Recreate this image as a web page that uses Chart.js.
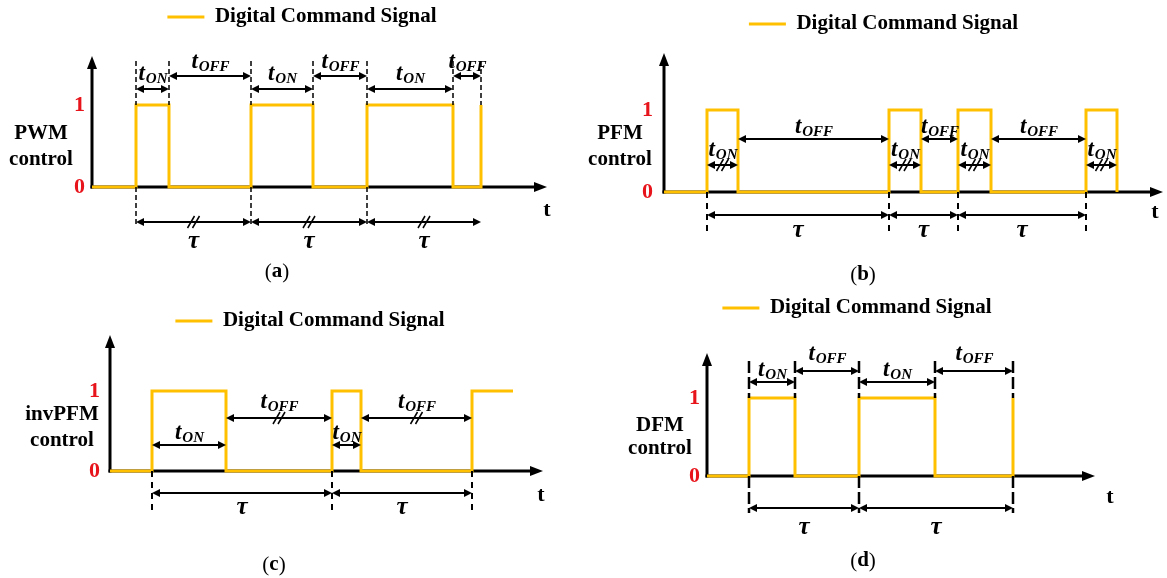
<!DOCTYPE html>
<html>
<head>
<meta charset="utf-8">
<script src="https://cdn.jsdelivr.net/npm/chart.js@4.4.0/dist/chart.umd.min.js"></script>
<style>
  body { margin: 0; background: #fff; }
  #fig { position: relative; width: 1167px; height: 578px; overflow: hidden; }
  #fig canvas { position: absolute; }
</style>
</head>
<body>
<div id="fig"></div>
<script>
// switching instants in ms (drawn at 10 px per ms)
const pwmRise = [4.4, 15.9, 27.5, 38.9];
const pwmFall = [7.7, 22.1, 36.1];
const pfmRise = [4.3, 22.5, 29.4, 42.2];
const pfmFall = [7.4, 25.7, 32.7, 45.3];
const invRise = [4.2, 22.2, 36.2];
const invFall = [11.6, 25.1];
const invHoldUntil = 40.3;
const dfmRise = [4.2, 15.2, 30.6];
const dfmFall = [8.8, 22.8];
const axisEnd = [45.5, 49.9, 43.3, 38.8];
const levelTicks = ['0', '1'];
const modeNames = ['PWM', 'PFM', 'invPFM', 'DFM'];
const captionLetters = ['a', 'b', 'c', 'd'];
const seriesName = 'Digital Command Signal';

const rises = [pwmRise, pfmRise, invRise, dfmRise];
const falls = [pwmFall, pfmFall, invFall, dfmFall];
const holds = [null, null, invHoldUntil, null];

const PX = 10;
const ORANGE = '#FFC000';
const RED = '#E8141B';
const serif = '"Liberation Serif", "DejaVu Serif", serif';

// where each panel sits on the page
const frames = [
  { left: 0, top: 0, width: 583, height: 289, pad: { left: 21, right: 0, top: 0.5 },
    axisX: 92, baseY: 187, highY: 105, yTop: 56, tickX: 85, tX: 547, tY: 210,
    nameX: 41, nameY: [134, 160], capX: 277, capY: 272 },
  { left: 583, top: 0, width: 584, height: 289, pad: { left: 17, right: 0, top: 7.5 },
    axisX: 664, baseY: 192, highY: 110, yTop: 53, tickX: 653, tX: 1155, tY: 212,
    nameX: 620, nameY: [134, 160], capX: 863, capY: 275 },
  { left: 0, top: 289, width: 583, height: 289, pad: { left: 37, right: 0, top: 15.5 },
    axisX: 110, baseY: 471, highY: 391, yTop: 335, tickX: 100, tX: 541, tY: 495,
    nameX: 62, nameY: [415, 441], capX: 274, capY: 565 },
  { left: 583, top: 289, width: 584, height: 289, pad: { left: 0, right: 36, top: 2.5 },
    axisX: 707, baseY: 476, highY: 398, yTop: 353, tickX: 700, tX: 1110, tY: 497,
    nameX: 660, nameY: [426, 449], capX: 863, capY: 561 }
];

// dimension arrows and guide marks, offsets in px from the 0/1 level
const marks = [
  { on:  { n: 3, ref: 'high', arrow: -16, text: -31 },
    off: { n: 3, ref: 'high', arrow: -29, text: -43 },
    tau: { n: 3, ref: 'base', arrow: 35, text: 55, hash: true },
    up: { len: 44, dash: [5, 3], w: 1.5 }, down: { n: 3, len: 38, dash: [5, 3], w: 1.5 } },
  { on:  { n: 4, ref: 'base', arrow: -27, text: -42, hash: true },
    off: { n: 3, ref: 'high', arrow: 29, text: 17 },
    tau: { n: 3, ref: 'base', arrow: 23, text: 39 },
    down: { n: 4, len: 41, dash: [6, 5], w: 2 } },
  { on:  { n: 2, ref: 'base', arrow: -26, text: -38 },
    off: { n: 2, ref: 'high', arrow: 27, text: 11, hash: true },
    tau: { n: 2, ref: 'base', arrow: 22, text: 37 },
    down: { n: 3, len: 39, dash: [6, 5], w: 2 } },
  { on:  { n: 2, ref: 'high', arrow: -16, text: -28 },
    off: { n: 2, ref: 'high', arrow: -27, text: -44 },
    tau: { n: 2, ref: 'base', arrow: 32, text: 52 },
    up: { len: 37, dash: [12, 4], w: 2.5 }, down: { n: 3, len: 37, dash: [12, 4], w: 2.5 } }
];

function stepPoints(rise, fall, holdUntil) {
  const pts = [{ x: 0, y: 0 }];
  const edges = rise.map(t => [t, 1]).concat(fall.map(t => [t, 0]));
  edges.sort((p, q) => p[0] - q[0]);
  edges.forEach(([t, v]) => pts.push({ x: t, y: v }));
  if (holdUntil != null) pts.push({ x: holdUntil, y: 1 });
  return pts;
}

function dimArrow(ctx, x1, x2, y) {
  const h = 8, w = 4;
  ctx.strokeStyle = '#000';
  ctx.fillStyle = '#000';
  ctx.lineWidth = 2;
  ctx.setLineDash([]);
  ctx.beginPath();
  ctx.moveTo(x1 + h - 1, y);
  ctx.lineTo(x2 - h + 1, y);
  ctx.stroke();
  ctx.beginPath();
  ctx.moveTo(x1, y); ctx.lineTo(x1 + h, y - w); ctx.lineTo(x1 + h, y + w);
  ctx.closePath(); ctx.fill();
  ctx.beginPath();
  ctx.moveTo(x2, y); ctx.lineTo(x2 - h, y - w); ctx.lineTo(x2 - h, y + w);
  ctx.closePath(); ctx.fill();
}

function hashMark(ctx, x, y) {
  ctx.lineWidth = 1.5;
  ctx.setLineDash([]);
  [-2.5, 2.5].forEach(dx => {
    ctx.beginPath();
    ctx.moveTo(x + dx - 3.5, y + 6);
    ctx.lineTo(x + dx + 3.5, y - 6);
    ctx.stroke();
  });
}

function vdash(ctx, x, y1, y2, g) {
  ctx.strokeStyle = '#000';
  ctx.lineWidth = g.w;
  ctx.setLineDash(g.dash);
  ctx.beginPath();
  ctx.moveTo(x, y1);
  ctx.lineTo(x, y2);
  ctx.stroke();
  ctx.setLineDash([]);
}

function timeLabel(ctx, x, y, sub) {
  ctx.fillStyle = '#000';
  ctx.textBaseline = 'middle';
  ctx.textAlign = 'left';
  ctx.font = 'italic bold 23px ' + serif;
  const w1 = ctx.measureText('t').width;
  ctx.font = 'italic bold 15px ' + serif;
  const w2 = ctx.measureText(sub).width;
  const x0 = x - (w1 + w2) / 2;
  ctx.font = 'italic bold 23px ' + serif;
  ctx.fillText('t', x0, y);
  ctx.font = 'italic bold 15px ' + serif;
  ctx.fillText(sub, x0 + w1 + 1, y + 5);
}

function tauLabel(ctx, x, y) {
  ctx.fillStyle = '#000';
  ctx.textBaseline = 'middle';
  ctx.textAlign = 'center';
  ctx.font = 'italic bold 25px ' + serif;
  ctx.fillText('\u03c4', x, y);
}

function caption(ctx, x, y, letter) {
  ctx.fillStyle = '#000';
  ctx.textBaseline = 'middle';
  ctx.textAlign = 'left';
  ctx.font = '21px ' + serif;
  const wp = ctx.measureText('(').width;
  ctx.font = 'bold 21px ' + serif;
  const wl = ctx.measureText(letter).width;
  let cx = x - (2 * wp + wl) / 2;
  ctx.font = '21px ' + serif;
  ctx.fillText('(', cx, y);
  ctx.font = 'bold 21px ' + serif;
  ctx.fillText(letter, cx + wp, y);
  ctx.font = '21px ' + serif;
  ctx.fillText(')', cx + wp + wl, y);
}

function fitLevels(f) {
  return (scale) => {
    const bottom = f.height;
    const top = f.height - scale.height;
    const base = f.baseY - f.top, high = f.highY - f.top;
    const k = base - high;
    scale.min = -(bottom - base) / k;
    scale.max = scale.min + (bottom - top) / k;
  };
}

function overlay(i) {
  const f = frames[i], m = marks[i];
  const rise = rises[i], fall = falls[i];
  return {
    id: 'overlay' + i,
    beforeDatasetsDraw(chart) {
      const ctx = chart.ctx, xs = chart.scales.x, ys = chart.scales.y;
      const x0 = xs.getPixelForValue(0), xe = xs.getPixelForValue(axisEnd[i]);
      const y0 = ys.getPixelForValue(0);
      const yt = f.yTop - f.top;
      ctx.save();
      ctx.strokeStyle = '#000';
      ctx.fillStyle = '#000';
      ctx.lineWidth = 3;
      ctx.beginPath(); ctx.moveTo(x0, y0 + 1.5); ctx.lineTo(x0, yt + 10); ctx.stroke();
      ctx.beginPath(); ctx.moveTo(x0, yt); ctx.lineTo(x0 - 5, yt + 13); ctx.lineTo(x0 + 5, yt + 13);
      ctx.closePath(); ctx.fill();
      ctx.beginPath(); ctx.moveTo(x0 - 1.5, y0); ctx.lineTo(xe - 10, y0); ctx.stroke();
      ctx.beginPath(); ctx.moveTo(xe, y0); ctx.lineTo(xe - 13, y0 - 5); ctx.lineTo(xe - 13, y0 + 5);
      ctx.closePath(); ctx.fill();
      ctx.restore();
    },
    afterDraw(chart) {
      const ctx = chart.ctx, xs = chart.scales.x, ys = chart.scales.y;
      const X = t => xs.getPixelForValue(t);
      const base = ys.getPixelForValue(0), high = ys.getPixelForValue(1);
      ctx.save();
      if (m.up) rise.concat(fall).forEach(t => vdash(ctx, X(t), high - m.up.len, high, m.up));
      if (m.down) rise.slice(0, m.down.n).forEach(t => vdash(ctx, X(t), base, base + m.down.len, m.down));

      const groups = [[m.on, rise, fall, 0, 'ON'], [m.off, fall, rise, 1, 'OFF'], [m.tau, rise, rise, 1, null]];
      groups.forEach(([g, from, to, shift, sub]) => {
        const y = g.ref === 'high' ? high : base;
        for (let k = 0; k < g.n; k++) {
          const a = X(from[k]), b = X(to[k + shift]);
          dimArrow(ctx, a, b, y + g.arrow);
          if (g.hash) hashMark(ctx, (a + b) / 2, y + g.arrow);
          if (sub) timeLabel(ctx, (a + b) / 2, y + g.text, sub);
          else tauLabel(ctx, (a + b) / 2, y + g.text);
        }
      });

      // level ticks
      ctx.fillStyle = RED;
      ctx.font = 'bold 22px ' + serif;
      ctx.textAlign = 'right';
      ctx.textBaseline = 'middle';
      ctx.fillText(levelTicks[1], f.tickX - f.left, high);
      ctx.fillText(levelTicks[0], f.tickX - f.left, base);

      // mode name
      ctx.fillStyle = '#000';
      ctx.textAlign = 'center';
      ctx.font = 'bold 21px ' + serif;
      ctx.fillText(modeNames[i], f.nameX - f.left, f.nameY[0] - f.top);
      ctx.fillText('control', f.nameX - f.left, f.nameY[1] - f.top);

      // time axis name
      ctx.font = 'bold 22px ' + serif;
      ctx.fillText('t', f.tX - f.left, f.tY - f.top);

      caption(ctx, f.capX - f.left, f.capY - f.top, captionLetters[i]);
      ctx.restore();
    }
  };
}

const fig = document.getElementById('fig');
frames.forEach((f, i) => {
  const canvas = document.createElement('canvas');
  canvas.width = f.width;
  canvas.height = f.height;
  canvas.style.left = f.left + 'px';
  canvas.style.top = f.top + 'px';
  fig.appendChild(canvas);

  const caLeft = f.left + f.pad.left;
  const caRight = f.left + f.width - f.pad.right;

  new Chart(canvas, {
    type: 'line',
    data: {
      datasets: [{
        label: seriesName,
        data: stepPoints(rises[i], falls[i], holds[i]),
        borderColor: ORANGE,
        backgroundColor: ORANGE,
        borderWidth: 3,
        stepped: true,
        pointRadius: 0,
        pointStyle: 'line',
        fill: false
      }]
    },
    options: {
      responsive: false,
      animation: false,
      events: [],
      layout: { autoPadding: false, padding: { left: f.pad.left, right: f.pad.right, top: f.pad.top, bottom: 0 } },
      scales: {
        x: { type: 'linear', display: false, bounds: 'data',
             min: (caLeft - f.axisX) / PX, max: (caRight - f.axisX) / PX },
        y: { type: 'linear', display: false, bounds: 'data', afterDataLimits: fitLevels(f) }
      },
      plugins: {
        legend: {
          position: 'top',
          labels: {
            usePointStyle: true,
            pointStyle: 'line',
            pointStyleWidth: 37,
            color: '#000',
            padding: 6,
            font: { family: serif, size: 21, weight: 'bold' }
          }
        },
        tooltip: { enabled: false }
      }
    },
    plugins: [overlay(i)]
  });
});
</script>
</body>
</html>
